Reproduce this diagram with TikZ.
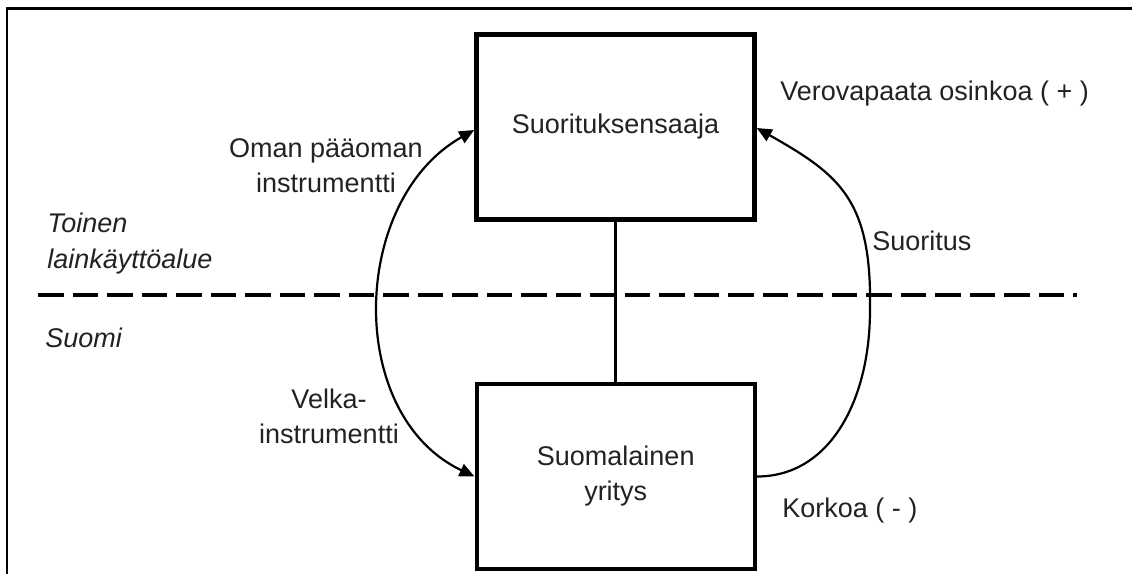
\documentclass[tikz,border=0pt]{standalone}
\usepackage{fontspec}
\setmainfont{Liberation Sans}
\usetikzlibrary{arrows.meta}
\definecolor{txt}{RGB}{34,34,34}
\begin{document}
\begin{tikzpicture}[x=0.5pt,y=-0.5pt,
  box/.style={draw, line width=2.25pt, minimum width=139pt, minimum height=92.5pt,
    inner sep=0pt, align=center, font=\fontsize{13.5}{17.5}\selectfont, text=txt},
  lbl/.style={inner sep=0pt, font=\fontsize{13.5}{17.5}\selectfont, text=txt},
  region/.style={inner sep=0pt, font=\fontsize{13.5}{18}\selectfont\itshape, text=txt, align=left},
  link/.style={line width=1.2pt},
  flow/.style={line width=1.1pt},
  onetip/.style={-{Triangle[length=7.5pt,width=6.5pt]}},
  twotips/.style={{Triangle[length=7.5pt,width=6.5pt]}-{Triangle[length=7.5pt,width=6.5pt]}},
  border/.style={line width=1.25pt},
  juris/.style={line width=2pt, dash pattern=on 12.75pt off 4.5pt}
]
\useasboundingbox (0,0) rectangle (1132,574);
\draw[border] (7,574) -- (7,8.5) -- (1132,8.5);

\node[box] (payee) at (615.5,126.75) {Suorituksensaaja};
\node[box] (firm) at (615.75,476.5) {Suomalainen\\yritys};

\draw[juris] (38.3,295) -- (1077,295);

\draw[link] (payee.south) -- (payee.south |- firm.north);

\draw[flow, twotips] ([shift={(0,3.25)}]payee.west) .. controls (350,200) and (345,415) .. (firm.west);
\draw[flow, onetip] (firm.east) .. controls (830,476.5) and (870,400) .. (870,310)
  .. controls (872,200) and (840,175) .. ([shift={(0,1.25)}]payee.east);

\node[lbl, anchor=base west] (div) at (780,100) {Verovapaata osinkoa ( + )};
\node[lbl, anchor=base west] (pay) at (872,250) {Suoritus};
\node[lbl, anchor=base west] (int) at (782,517) {Korkoa ( - )};
\node[lbl, align=center, anchor=base] (eq) at (326,192) {Oman pääoman\\instrumentti};
\node[lbl, align=center, anchor=base] (debt) at (329,443) {Velka-\\instrumentti};
\node[region, anchor=base west] (other) at (47,268) {Toinen\\lainkäyttöalue};
\node[region, anchor=base west] (fi) at (45,347) {Suomi};
\end{tikzpicture}
\end{document}
